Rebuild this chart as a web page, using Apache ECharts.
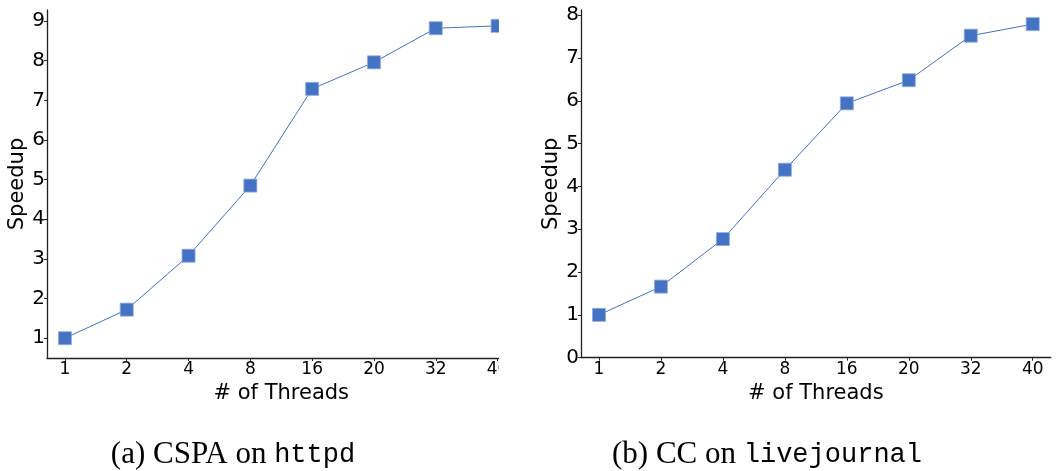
<!DOCTYPE html>
<html>
<head>
<meta charset="utf-8">
<script src="https://cdn.jsdelivr.net/npm/echarts@6/dist/echarts.min.js"></script>
<style>
html,body{margin:0;padding:0;background:#fff;}
#c{width:1059px;height:471px;}
</style>
</head>
<body>
<div id="c"></div>
<script>
const threads = ['1', '2', '4', '8', '16', '20', '32', '40'];
const speedupCSPA = [1.0, 1.72, 3.08, 4.85, 7.29, 7.96, 8.82, 8.88];
const speedupCC = [1.0, 1.66, 2.77, 4.39, 5.94, 6.48, 7.52, 7.79];
const yTicksLeft = [1, 2, 3, 4, 5, 6, 7, 8, 9];
const yTicksRight = [0, 1, 2, 3, 4, 5, 6, 7, 8];
const captionA = ['(a) CSPA on ', 'httpd'];
const captionB = ['(b) CC on ', 'livejournal'];

const font = 'DejaVu Sans';
const axisCol = '#222222';
const lineCol = '#4472C4';
const xIdx = threads.map((t, i) => i);

function xAxis(gi) {
  return {
    type: 'value', gridIndex: gi, min: -0.29, max: 7.29,
    name: '# of Threads', nameLocation: 'middle', nameGap: 18,
    nameTextStyle: {fontFamily: font, fontSize: 21, color: '#000'},
    axisLine: {show: true, onZero: false, lineStyle: {color: axisCol, width: 1.3}},
    axisTick: {show: true, length: 3, customValues: xIdx, lineStyle: {color: axisCol}},
    axisLabel: {customValues: xIdx, margin: 3, fontFamily: font, fontSize: 17, color: '#000',
      formatter: v => threads[Math.round(v)]},
    splitLine: {show: false}
  };
}
function yAxis(gi, min, max, ticks) {
  return {
    type: 'value', gridIndex: gi, min: min, max: max,
    name: 'Speedup', nameLocation: 'middle', nameGap: 19,
    nameTextStyle: {fontFamily: font, fontSize: 21, color: '#000'},
    axisLine: {show: true, onZero: false, lineStyle: {color: axisCol, width: 1.3}},
    axisTick: {show: true, length: 3, customValues: ticks, lineStyle: {color: axisCol}},
    axisLabel: {customValues: ticks, margin: 2, fontFamily: font, fontSize: 20, color: '#000'},
    splitLine: {show: false}
  };
}
function series(gi, vals) {
  return {
    type: 'line', xAxisIndex: gi, yAxisIndex: gi,
    data: vals.map((v, i) => [i, v]),
    symbol: 'rect', symbolSize: 13,
    lineStyle: {color: lineCol, width: 1},
    itemStyle: {color: lineCol, borderColor: '#8fa9dc', borderWidth: 0.8},
    emphasis: {disabled: true}, z: 3
  };
}

const chart = echarts.init(document.getElementById('c'), null, {renderer: 'canvas'});
chart.setOption({
  animation: false,
  backgroundColor: '#fff',
  grid: [
    {left: 47, top: 10, width: 468.5, height: 348, containLabel: false, outerBoundsMode: 'none'},
    {left: 581, top: 10, width: 469.7, height: 347.7, containLabel: false, outerBoundsMode: 'none'}
  ],
  xAxis: [xAxis(0), xAxis(1)],
  yAxis: [yAxis(0, 0.5, 9.28, yTicksLeft), yAxis(1, 0, 8.12, yTicksRight)],
  series: [series(0, speedupCSPA), series(1, speedupCC)],
  graphic: [
    {type: 'rect', left: 499, top: 0, z: 100, shape: {width: 31, height: 420}, style: {fill: '#fff'}},
    {type: 'text', z: 100, x: 233, y: 455, style: {
      text: '{s|' + captionA[0] + '}{m|' + captionA[1] + '}',
      align: 'center', verticalAlign: 'middle',
      rich: {s: {fontFamily: 'Liberation Serif', fontSize: 31, fill: '#000'},
             m: {fontFamily: 'Liberation Mono', fontSize: 27, fill: '#000'}}}},
    {type: 'text', z: 100, x: 767, y: 455, style: {
      text: '{s|' + captionB[0] + '}{m|' + captionB[1] + '}',
      align: 'center', verticalAlign: 'middle',
      rich: {s: {fontFamily: 'Liberation Serif', fontSize: 31, fill: '#000'},
             m: {fontFamily: 'Liberation Mono', fontSize: 27, fill: '#000'}}}}
  ]
});
</script>
</body>
</html>
